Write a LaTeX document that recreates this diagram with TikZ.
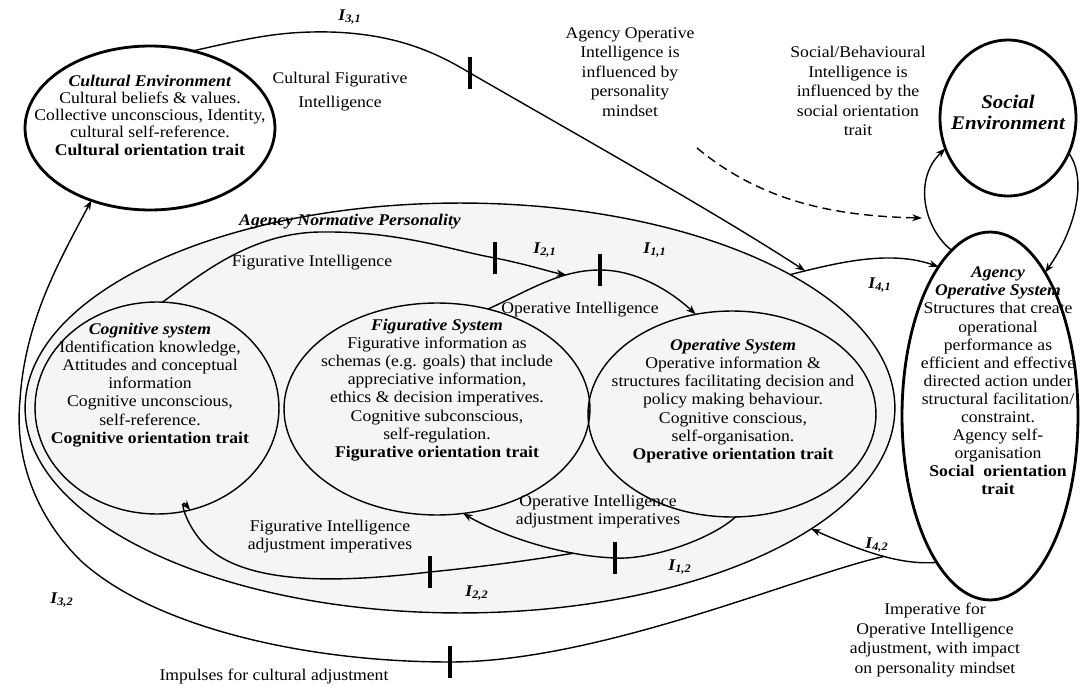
\documentclass[tikz,border=0pt]{standalone}
\usepackage{fontspec}
\setmainfont{Liberation Serif}[FakeStretch=1.08]
\usetikzlibrary{shapes.geometric,arrows.meta}
\begin{document}
\begin{tikzpicture}[x=0.02cm,y=-0.02cm,
  ln/.style={line width=0.8pt},
  thk/.style={line width=1.6pt},
  arr/.style={ln,-{Stealth[length=5.5pt,width=4pt]}},
  ell/.style={ellipse,draw,inner sep=0pt,outer sep=0pt},
  tk/.style={fill=black,draw=none,inner sep=0pt,minimum width=2.4pt,minimum height=0.66cm},
  tx/.style={align=center,inner sep=0pt,font=\fontsize{9.3}{10.3}\selectfont},
  lab/.style={inner sep=0pt,font=\fontsize{9.3}{10.3}\selectfont\bfseries\itshape}
]
\useasboundingbox (0,0) rectangle (1080,686);
\fill[white] (0,0) rectangle (1080,686);

% ellipses
\node[ell,ln,fill=black!4,minimum width=17.4cm,minimum height=8.2cm] (anp) at (460,408) {};
\node[ell,thk,minimum width=5cm,minimum height=3.28cm] (cult) at (150,128) {};
\node[ell,thk,minimum width=2.72cm,minimum height=3.12cm] (soc) at (1008,118) {};
\node[ell,thk,minimum width=3.52cm,minimum height=7.36cm] (aos) at (990,416) {};
\node[ell,ln,minimum width=4.88cm,minimum height=4.24cm] (cog) at (157,408) {};
\node[ell,ln,minimum width=6.12cm,minimum height=4.24cm] (fig) at (437,409) {};
\node[ell,ln,minimum width=5.76cm,minimum height=4.12cm] (ops) at (732,414) {};

% ticks
\node[tk] (t31) at (470,73) {};
\node[tk] (t21) at (495,258) {};
\node[tk] (t11) at (600,270) {};
\node[tk] (t22) at (430,572) {};
\node[tk] (t12) at (615,558) {};
\node[tk] (t32) at (450,662) {};

% free coordinates
\coordinate (ds0) at (697,148);
\coordinate (ds1) at (922,218);

% connectors
\draw[arr] (anp.22) .. controls (840,262) and (890,250) .. (aos.109) coordinate[pos=.1] (c31);
\draw[arr] (cult.61) .. controls (250,38) and (280,31) .. (330,32) .. controls (400,34) and (440,55) .. (t31.center) .. controls (560,125) and (720,215) .. (c31);
\draw[arr] (fig.63) .. controls (530,290) and (560,270) .. (t11.center) coordinate[pos=.7] (c21) .. controls (640,270) and (675,295) .. (ops.110);
\draw[arr] (cog.87) .. controls (200,275) and (250,233) .. (320,232) .. controls (400,231) and (450,250) .. (t21.center) .. controls (530,265) and (550,272) .. (c21);
\draw[arr] (ops.-88) .. controls (710,540) and (650,560) .. (t12.center) .. controls (560,556) and (500,535) .. (fig.-76) coordinate[pos=.25] (fa0);
\draw[arr] (fa0) .. controls (520,562) and (470,568) .. (t22.center) .. controls (360,580) and (250,590) .. (205,545) .. controls (185,525) and (178,495) .. (cog.-72);
\draw[arr] (aos.250) .. controls (905,565) and (870,555) .. (anp.-19) coordinate[pos=.5] (c42);
\draw[arr] (c42) .. controls (800,575) and (600,662) .. (t32.center) .. controls (300,662) and (150,625) .. (80,560) .. controls (30,510) and (15,450) .. (20,400) .. controls (25,320) and (60,260) .. (cult.231);
\draw[arr] (aos.103) .. controls (925,230) and (912,180) .. (soc.206);
\draw[arr] (soc.-30) .. controls (1088,180) and (1075,230) .. (aos.69);
\draw[arr,dash pattern=on 5pt off 3pt] (ds0) .. controls (760,200) and (830,216) .. (ds1);

% texts in ellipses
\node[tx,font=\fontsize{9.3}{9.8}\selectfont] (cultt) at (150,115) {\textbf{\textit{Cultural Environment}}\\Cultural beliefs \& values.\\Collective unconscious, Identity,\\cultural self-reference.\\\textbf{Cultural orientation trait}};
\node[tx,font=\fontsize{11}{12}\selectfont\bfseries\itshape] (soct) at (1008,112) {Social\\Environment};
\node[tx] (aost) at (998,381) {\textbf{\textit{Agency}}\\\textbf{\textit{Operative System}}\\Structures that create\\operational\\performance as\\efficient and effective\\directed action under\\structural facilitation/\\constraint.\\Agency self-\\organisation\\\textbf{Social\ \ orientation}\\\textbf{trait}};
\node[tx] (cogt) at (150,385) {\textbf{\textit{Cognitive system}}\\Identification knowledge,\\Attitudes and conceptual\\information\\Cognitive unconscious,\\self-reference.\\\textbf{Cognitive orientation trait}};
\node[tx] (figt) at (437,390) {\textbf{\textit{Figurative System}}\\Figurative information as\\schemas (e.g. goals) that include\\appreciative information,\\ethics \& decision imperatives.\\Cognitive subconscious,\\self-regulation.\\\textbf{Figurative orientation trait}};
\node[tx] (opst) at (733,401) {\textbf{\textit{Operative System}}\\Operative information \&\\structures facilitating decision and\\policy making behaviour.\\Cognitive conscious,\\self-organisation.\\\textbf{Operative orientation trait}};
\node[lab] (anpt) at (350,222) {Agency Normative Personality};

% free texts
\node[tx,font=\fontsize{9.3}{13.6}\selectfont] (cfi) at (340,92) {Cultural Figurative\\Intelligence};
\node[tx,font=\fontsize{9.3}{11.1}\selectfont] (aoi) at (630,72) {Agency Operative\\Intelligence is\\influenced by\\personality\\mindset};
\node[tx,font=\fontsize{9.3}{11.1}\selectfont] (sbi) at (858,91) {Social/Behavioural\\Intelligence is\\influenced by the\\social orientation\\trait};
\node[tx] (fil) at (312,263) {Figurative Intelligence};
\node[tx] (oil) at (580,310) {Operative Intelligence};
\node[tx] (oia) at (598,512) {Operative Intelligence\\adjustment imperatives};
\node[tx] (fia) at (330,537) {Figurative Intelligence\\adjustment imperatives};
\node[tx,font=\fontsize{9.3}{11.1}\selectfont] (ioi) at (935,640) {Imperative for\\Operative Intelligence\\adjustment, with impact\\on personality mindset};
\node[tx] (ica) at (274,676) {Impulses for cultural adjustment};

% impulse labels
\node[lab] (l31) at (350,17) {I\textsubscript{3,1}};
\node[lab] (l21) at (545,250) {I\textsubscript{2,1}};
\node[lab] (l11) at (655,250) {I\textsubscript{1,1}};
\node[lab] (l41) at (880,285) {I\textsubscript{4,1}};
\node[lab] (l12) at (680,567) {I\textsubscript{1,2}};
\node[lab] (l22) at (477,593) {I\textsubscript{2,2}};
\node[lab] (l42) at (877,545) {I\textsubscript{4,2}};
\node[lab] (l32) at (62,600) {I\textsubscript{3,2}};
\end{tikzpicture}
\end{document}
